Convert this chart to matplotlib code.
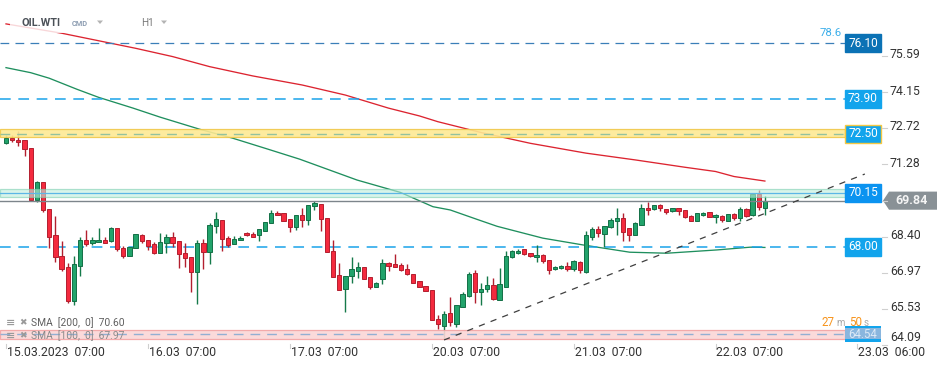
import matplotlib
matplotlib.use('Agg')
import matplotlib.pyplot as plt
from matplotlib.patches import Rectangle, Polygon
import matplotlib.transforms as mtransforms
import numpy as np

plt.rcParams['font.family'] = ['Roboto', 'DejaVu Sans']

# ---------------- data ----------------
opens = [72.12, 72.35, 72.25, 72.25, 71.92, 69.87, 70.58, 69.50, 68.46, 67.63,
         67.21, 65.83, 67.26, 68.27, 68.15, 68.19, 68.27, 68.23, 68.76, 67.96,
         67.63, 67.95, 68.46, 68.27, 68.11, 67.75, 68.15, 68.40, 68.23, 67.75,
         67.59, 66.99, 68.15, 67.79, 68.83, 69.06, 68.34, 68.11, 68.27, 68.54,
         68.50, 68.48, 68.65, 68.94, 69.34, 69.34, 69.10, 68.81, 69.26, 69.09,
         69.61, 69.70, 69.14, 67.83, 66.87, 66.32, 66.86, 67.06, 67.19, 66.80,
         66.42, 66.72, 67.35, 67.31, 67.27, 67.11, 66.94, 66.65, 66.44, 66.28,
         65.14, 64.85, 65.36, 64.95, 65.60, 66.05, 66.95, 66.20, 66.33, 66.48,
         65.89, 66.42, 67.59, 67.75, 67.91, 67.75, 67.59, 67.67, 67.48, 67.11,
         67.17, 67.25, 67.11, 67.40, 67.02, 68.41, 68.70, 68.53, 68.78, 69.04,
         69.15, 68.75, 68.49, 68.88, 69.55, 69.50, 69.66, 69.50, 69.42, 69.53,
         69.46, 69.23, 69.05, 69.26, 69.38, 69.18, 69.23, 69.05, 69.31, 69.15,
         69.52, 69.26, 70.11, 69.54]
highs = [72.45, 72.45, 72.61, 72.25, 71.92, 70.62, 70.58, 69.50, 69.23, 68.24,
         67.35, 67.62, 68.41, 68.68, 68.38, 68.77, 68.40, 68.78, 68.76, 68.04,
         68.00, 68.50, 68.52, 68.27, 68.20, 68.54, 68.52, 68.60, 68.23, 68.15,
         67.59, 68.28, 68.32, 68.94, 69.38, 69.06, 68.45, 68.44, 68.44, 68.60,
         68.58, 68.70, 69.00, 69.47, 69.42, 69.34, 69.10, 69.26, 69.55, 69.66,
         69.84, 69.70, 69.14, 68.28, 67.36, 66.86, 67.59, 67.40, 67.19, 66.80,
         66.61, 67.51, 67.42, 67.72, 67.35, 67.32, 66.94, 66.65, 66.44, 66.28,
         65.30, 65.45, 66.01, 65.68, 66.21, 67.00, 67.09, 66.56, 66.84, 66.76,
         67.15, 67.85, 67.88, 67.90, 67.93, 67.77, 68.07, 67.72, 67.50, 67.24,
         67.28, 67.40, 67.48, 67.45, 68.64, 68.81, 68.84, 68.84, 69.17, 69.55,
         69.34, 68.75, 68.98, 69.70, 69.79, 69.68, 69.71, 69.52, 69.56, 69.55,
         69.48, 69.25, 69.36, 69.38, 69.40, 69.29, 69.27, 69.31, 69.36, 69.60,
         69.55, 70.15, 70.27, 70.04]
lows = [72.10, 72.16, 72.03, 71.63, 69.87, 69.80, 69.37, 67.97, 67.42, 67.06,
        65.76, 65.69, 66.86, 68.04, 68.07, 68.19, 68.15, 68.21, 67.85, 67.55,
        67.63, 67.95, 68.17, 67.88, 67.71, 67.75, 67.75, 68.01, 67.15, 67.22,
        66.22, 65.72, 67.14, 67.34, 68.54, 67.84, 68.01, 68.10, 68.27, 68.45,
        68.40, 68.25, 68.63, 68.94, 69.25, 69.05, 68.61, 68.68, 68.78, 68.88,
        69.45, 68.65, 67.79, 66.82, 66.28, 65.43, 66.56, 66.78, 66.74, 66.33,
        66.42, 66.54, 67.06, 67.19, 67.04, 66.89, 66.58, 66.40, 66.24, 65.08,
        64.74, 64.33, 64.85, 64.80, 65.60, 65.99, 65.79, 65.70, 66.21, 65.87,
        65.89, 66.40, 67.55, 67.72, 67.68, 67.60, 67.42, 67.36, 66.93, 67.08,
        67.14, 67.06, 67.06, 66.98, 66.95, 68.28, 68.39, 68.00, 68.76, 68.47,
        68.23, 68.22, 68.47, 68.86, 69.27, 69.48, 69.44, 69.31, 69.40, 69.27,
        69.16, 69.03, 69.03, 69.24, 69.19, 68.94, 69.01, 69.03, 69.07, 69.02,
        69.18, 69.24, 69.47, 69.27]
closes = [72.35, 72.25, 72.16, 71.88, 69.87, 70.58, 69.45, 68.41, 67.59, 67.14,
          65.83, 67.32, 68.27, 68.13, 68.27, 68.27, 68.17, 68.76, 67.91, 67.63,
          68.00, 68.50, 68.23, 68.05, 67.75, 68.19, 68.40, 68.17, 67.71, 67.55,
          66.99, 68.15, 67.79, 68.86, 69.10, 68.31, 68.07, 68.31, 68.36, 68.46,
          68.41, 68.70, 68.99, 69.34, 69.25, 69.05, 68.78, 69.26, 69.09, 69.66,
          69.74, 69.10, 67.79, 66.82, 66.28, 66.86, 67.11, 67.19, 66.74, 66.41,
          66.56, 67.35, 67.26, 67.22, 67.07, 66.91, 66.58, 66.40, 66.24, 65.08,
          64.93, 65.35, 65.03, 65.68, 66.12, 66.91, 66.20, 66.33, 66.48, 65.92,
          66.53, 67.64, 67.84, 67.85, 67.70, 67.62, 67.67, 67.46, 67.09, 67.19,
          67.25, 67.14, 67.43, 67.08, 68.48, 68.70, 68.57, 68.84, 69.07, 69.15,
          68.60, 68.48, 68.94, 69.56, 69.45, 69.66, 69.53, 69.39, 69.54, 69.42,
          69.18, 69.05, 69.34, 69.35, 69.21, 69.27, 69.07, 69.29, 69.14, 69.50,
          69.23, 70.11, 69.58, 69.84]

sma200_idx = [0, 9, 15, 21, 27, 33, 40, 48, 55, 62, 67, 70, 77, 85, 94, 102, 110, 115, 118, 123]
sma200_val = [76.87, 76.50, 76.20, 75.90, 75.57, 75.17, 74.80, 74.44, 74.04, 73.52,
              73.21, 72.98, 72.55, 72.12, 71.73, 71.46, 71.17, 71.00, 70.80, 70.62]
sma100_idx = [0, 4, 7, 11.5, 15, 20.6, 25, 31.4, 36.8, 42.3, 47.6, 56.9, 63.9, 69.2,
              72, 76.3, 79.6, 87, 93.5, 101.1, 107.1, 115.2, 120.6, 123]
sma100_val = [75.13, 74.93, 74.71, 74.27, 73.95, 73.52, 73.16, 72.68, 72.32, 71.90,
              71.49, 70.66, 70.17, 69.60, 69.47, 69.10, 68.82, 68.35, 68.08, 67.79,
              67.75, 67.88, 67.99, 67.98]

trend_idx = [71, 139.2]
trend_val = [64.30, 70.90]

price_ticks = [75.59, 74.15, 72.72, 71.28, 69.84, 68.40, 66.97, 65.53, 64.09]
time_tick_idx = [0, 23, 46, 69, 92, 115, 138]
time_tick_lbl = ['15.03.2023  07:00', '16.03  07:00', '17.03  07:00', '20.03  07:00',
                 '21.03  07:00', '22.03  07:00', '23.03  06:00']

last_price = 69.84
lvl_top = 76.10
lvl_a = 73.90
lvl_b = 72.50
band_b = (72.36, 72.68)
lvl_c = 70.15
band_c = (69.98, 70.30)
lvl_d = 68.00
lvl_e = 64.54
band_e = (64.33, 64.70)

# ---------------- figure ----------------
W, H = 949, 370
fig = plt.figure(figsize=(W / 100, H / 100), dpi=100)
ax = fig.add_axes([0, 25 / H, 882 / W, 345 / H])
ax.set_xlim(-0.972, 141.98)
ax.set_ylim(64.10, 77.82)
for s in ax.spines.values():
    s.set_visible(False)
ax.set_xticks([])
ax.set_yticks([])

XL = -0.972
XR = 136.0  # end of level lines (label box left)

def fx(x):
    return x / W

def fy(y):
    return 1 - y / H

tr_fig_data = mtransforms.blended_transform_factory(fig.transFigure, ax.transData)
tr_ax_data = mtransforms.blended_transform_factory(ax.transAxes, ax.transData)
tr_data_fig = mtransforms.blended_transform_factory(ax.transData, fig.transFigure)

# ---- SMA lines ----
ax.plot(sma200_idx, sma200_val, color='#dc2430', lw=0.95, zorder=2)
ax.plot(sma100_idx, sma100_val, color='#1f8f5e', lw=0.95, zorder=2)

# ---- candles ----
o = np.array(opens); h = np.array(highs); l = np.array(lows); c = np.array(closes)
idx = np.arange(len(o))
up = c >= o
lo = np.minimum(o, c)
bh = np.maximum(np.abs(c - o), 0.035)
ax.vlines(idx[up], l[up], h[up], color='#157a4a', lw=1.0, zorder=3)
ax.vlines(idx[~up], l[~up], h[~up], color='#b31f2f', lw=1.0, zorder=3)
ax.bar(idx[up], bh[up], bottom=lo[up], width=0.70, color='#22a36b',
       edgecolor='#137046', linewidth=0.7, zorder=4)
ax.bar(idx[~up], bh[~up], bottom=lo[~up], width=0.70, color='#f42a3e',
       edgecolor='#b31f2f', linewidth=0.7, zorder=4)

# ---- bands ----
ax.add_patch(Rectangle((XL, band_b[0]), XR - XL, band_b[1] - band_b[0],
                       facecolor='#fde994', edgecolor='#f0c84a', lw=0.9, alpha=0.9, zorder=5))
ax.plot([XL, XR], [lvl_b, lvl_b], color='#93c29e', lw=1.0, dashes=(7, 5), zorder=6)

ax.add_patch(Rectangle((XL, band_c[0]), XR - XL, band_c[1] - band_c[0],
                       facecolor='#bfeedd', edgecolor='#7fd0b2', lw=0.9, alpha=0.6, zorder=5))
ax.plot([XL, XR], [lvl_c, lvl_c], color='#5cb6e6', lw=0.9, zorder=6)

ax.add_patch(Rectangle((XL, band_e[0]), XR - XL, band_e[1] - band_e[0],
                       facecolor='#fbd6d6', edgecolor='#f2a3a3', lw=0.9, alpha=0.9, zorder=5))
ax.plot([XL, XR], [lvl_e, lvl_e], color='#93afd3', lw=1.0, dashes=(7, 5), zorder=6)

# ---- level lines ----
ax.plot([XL, XR], [lvl_top, lvl_top], color='#3b7fb8', lw=0.9, dashes=(7, 5), zorder=2)
ax.plot([XL, XR], [lvl_a, lvl_a], color='#1aa3ea', lw=1.1, dashes=(7, 5), zorder=2)
ax.plot([XL, XR], [lvl_d, lvl_d], color='#1aa3ea', lw=1.1, dashes=(7, 5), zorder=2)
ax.plot([XL, XR], [last_price, last_price], color='#7d858b', lw=1.0, zorder=6)

# ---- trendline ----
ax.plot(trend_idx, trend_val, color='#3f3f3f', lw=0.9, dashes=(5, 5), zorder=7, clip_on=False)

# ---- label boxes ----
bx0, bx1 = 845 / 882, 881 / 882
def level_box(p, face, text, edge=None, tcolor='white', alpha=1.0):
    ax.add_patch(Rectangle((bx0, p - 0.36), bx1 - bx0, 0.72, transform=tr_ax_data,
                           facecolor=face, edgecolor=edge if edge else face, lw=1.0,
                           alpha=alpha, zorder=8, clip_on=False))
    ax.text((bx0 + bx1) / 2, p, text, transform=tr_ax_data, ha='center', va='center',
            fontsize=8.6, color=tcolor, zorder=9, clip_on=False)

level_box(lvl_top, '#0b72b5', '76.10')
level_box(lvl_a, '#12a4ec', '73.90')
level_box(lvl_b, '#12a4ec', '72.50', edge='#f5c842')
level_box(lvl_c, '#0b93f0', '70.15')
level_box(lvl_d, '#12a4ec', '68.00')
# 64.54 box (semi transparent with bright strips)
ax.add_patch(Rectangle((bx0, lvl_e - 0.30), bx1 - bx0, 0.58, transform=tr_ax_data,
                       facecolor='#8ab6de', edgecolor='none', zorder=8, clip_on=False))
ax.add_patch(Rectangle((bx0, lvl_e + 0.22), bx1 - bx0, 0.09, transform=tr_ax_data,
                       facecolor='#12a4ec', edgecolor='none', zorder=8, clip_on=False))
ax.add_patch(Rectangle((bx0, lvl_e - 0.31), bx1 - bx0, 0.09, transform=tr_ax_data,
                       facecolor='#12a4ec', edgecolor='none', zorder=8, clip_on=False))
ax.text((bx0 + bx1) / 2, lvl_e - 0.02, '64.54', transform=tr_ax_data, ha='center', va='center',
        fontsize=8.3, color='#dce9f6', zorder=9)

ax.text(842 / 882, lvl_top + 0.22, '78.6', transform=tr_ax_data, ha='right', va='bottom',
        fontsize=8.2, color='#3aaeea', zorder=9)

# countdown text
cd_y = 64.85
ax.text(822 / 882, cd_y, '27', transform=tr_ax_data, ha='left', va='baseline',
        fontsize=8.4, color='#f7941d', zorder=9)
ax.text(836.5 / 882, cd_y, 'm', transform=tr_ax_data, ha='left', va='baseline',
        fontsize=7.0, color='#a8a8a8', zorder=9)
ax.text(849 / 882, cd_y, '50', transform=tr_ax_data, ha='left', va='baseline',
        fontsize=8.4, color='#f7941d', zorder=9)
ax.text(863.5 / 882, cd_y, 's', transform=tr_ax_data, ha='left', va='baseline',
        fontsize=7.0, color='#a8a8a8', zorder=9)

# ---- price axis ----
for p in price_ticks:
    fig.add_artist(plt.Line2D([fx(882), fx(887)], [p, p], transform=tr_fig_data,
                              color='#cfcfcf', lw=0.8))
    if p == last_price:
        continue
    va = 'center' if p > 64.5 else 'bottom'
    yy = p + 0.05
    fig.text(fx(890), yy, f'{p:.2f}', transform=tr_fig_data, ha='left', va=va,
             fontsize=8.8, color='#333333')

# last price label
yc = last_price
poly = Polygon([[fx(883), yc], [fx(889), yc + 0.36], [fx(937), yc + 0.36],
                [fx(937), yc - 0.36], [fx(889), yc - 0.36]], closed=True,
               transform=tr_fig_data, facecolor='#899196', edgecolor='none')
fig.add_artist(poly)
fig.text(fx(912), yc, f'{last_price:.2f}', transform=tr_fig_data, ha='center', va='center',
         fontsize=9, color='#f4f4f4', fontweight='bold')

# ---- time axis ----
for i, lbl in zip(time_tick_idx, time_tick_lbl):
    ax.plot([i, i], [fy(344), fy(348)], transform=tr_data_fig, color='#cfcfcf',
            lw=0.8, clip_on=False)
    ax.text(i + 0.15, fy(352), lbl, transform=tr_data_fig, ha='left', va='center',
            fontsize=8.8, color='#333333', clip_on=False)

# ---- header ----
fig.add_artist(Rectangle((fx(10), fy(33)), fx(180) - fx(10), fy(12) - fy(33),
                         transform=fig.transFigure, facecolor='white', alpha=0.82,
                         edgecolor='none', zorder=3))
fig.text(fx(21), fy(23), 'OIL.WTI', ha='left', va='center', fontsize=7.8,
         fontweight='bold', color='#4b5158', zorder=4)
fig.text(fx(72), fy(23.5), 'CMD', ha='left', va='center', fontsize=5.3,
         fontweight='bold', color='#8a9bb0', zorder=4)
fig.text(fx(141), fy(23), 'H1', ha='left', va='center', fontsize=7.2,
         color='#7a7a7a', zorder=4)
for x0 in (97, 161):
    fig.add_artist(Polygon([[fx(x0), fy(20.5)], [fx(x0 + 6), fy(20.5)], [fx(x0 + 3), fy(24)]],
                           closed=True, transform=fig.transFigure, facecolor='#b4b4b4',
                           edgecolor='none', zorder=4))

# ---- legend ----
legend_rows = [('SMA  [200,  0]  70.60', 323, '#5f5f5f'), ('SMA  [100,  0]  67.97', 336, '#8a8a8a')]
for txt, y, col in legend_rows:
    fig.text(fx(6), fy(y), '≡', ha='left', va='center', fontsize=8, color='#9a9a9a',
             family='DejaVu Sans', fontweight='bold', zorder=4)
    fig.text(fx(19), fy(y), '✖', ha='left', va='center', fontsize=6.5, color='#9a9a9a',
             family='DejaVu Sans', zorder=4)
    fig.text(fx(31), fy(y), txt, ha='left', va='center', fontsize=7.4, color=col, zorder=4)

fig.savefig('out.png', dpi=100)
